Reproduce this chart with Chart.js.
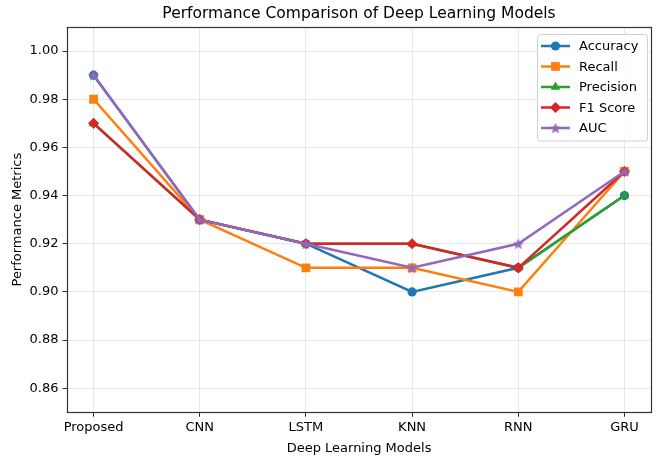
<!DOCTYPE html>
<html>
<head>
<meta charset="utf-8">
<script src="https://cdn.jsdelivr.net/npm/chart.js@4/dist/chart.umd.min.js"></script>
<style>
  html, body { margin: 0; padding: 0; background: #fff; }
  #wrap { width: 661px; height: 462px; position: relative; }
</style>
</head>
<body>
<div id="wrap"><canvas id="chart"></canvas></div>
<script>
// Data
const models = ['Proposed', 'CNN', 'LSTM', 'KNN', 'RNN', 'GRU'];
const accuracy = [0.99, 0.93, 0.92, 0.90, 0.91, 0.94];
const recall = [0.98, 0.93, 0.91, 0.91, 0.90, 0.95];
const precision = [0.97, 0.93, 0.92, 0.92, 0.91, 0.94];
const f1Score = [0.97, 0.93, 0.92, 0.92, 0.91, 0.95];
const auc = [0.99, 0.93, 0.92, 0.91, 0.92, 0.95];
const yTicks = [0.86, 0.88, 0.90, 0.92, 0.94, 0.96, 0.98, 1.00];
const chartTitle = 'Performance Comparison of Deep Learning Models';

const FONT = "'DejaVu Sans', sans-serif";

// filled 5-point star like matplotlib '*'
function makeStar(color, r) {
    const c = document.createElement('canvas');
    const s = Math.ceil(r * 2 + 2);
    c.width = s; c.height = s;
    const g = c.getContext('2d');
    g.beginPath();
    for (let i = 0; i < 10; i++) {
        const rad = i % 2 === 0 ? r : r * 0.42;
        const a = -Math.PI / 2 + i * Math.PI / 5;
        const x = s / 2 + rad * Math.cos(a);
        const y = s / 2 + 0.6 + rad * Math.sin(a);
        if (i === 0) g.moveTo(x, y); else g.lineTo(x, y);
    }
    g.closePath();
    g.fillStyle = color;
    g.fill();
    return c;
}

function toPoints(vals) {
    return vals.map((v, i) => ({ x: i, y: v }));
}

const series = [
    { label: 'Accuracy', data: accuracy, color: '#1f77b4', style: 'circle', r: 4.6 },
    { label: 'Recall', data: recall, color: '#ff7f0e', style: 'rect', r: 6.2 },
    { label: 'Precision', data: precision, color: '#2ca02c', style: 'triangle', r: 5.6 },
    { label: 'F1 Score', data: f1Score, color: '#d62728', style: 'rectRot', r: 5.6 },
    { label: 'AUC', data: auc, color: '#9467bd', style: makeStar('#9467bd', 6), r: 6 }
];

const datasets = series.map((s, i) => ({
    label: s.label,
    data: toPoints(s.data),
    order: series.length - i,
    borderColor: s.color,
    backgroundColor: s.color,
    borderWidth: 2.5,
    pointStyle: s.style,
    pointRadius: s.r,
    pointBorderWidth: 0,
    pointHoverRadius: s.r,
    tension: 0
}));

// matplotlib-like legend: line segment with marker
const legendBox = {
    id: 'legendBox',
    afterDraw(chart) {
        const ctx = chart.ctx;
        const area = chart.chartArea;
        const w = 110, rowH = 20.5;
        const h = 4 + rowH * series.length;
        const x0 = area.right - w - 4;
        const y0 = area.top + 7;
        ctx.save();
        ctx.fillStyle = 'rgba(255,255,255,0.8)';
        ctx.strokeStyle = '#d0d0d0';
        ctx.lineWidth = 1;
        ctx.beginPath();
        ctx.roundRect(x0 + 0.5, y0 + 0.5, w, h, 3);
        ctx.fill();
        ctx.stroke();
        ctx.font = '13px ' + FONT;
        ctx.textBaseline = 'middle';
        series.forEach((s, i) => {
            const cy = y0 + 12 + i * rowH;
            ctx.strokeStyle = s.color;
            ctx.lineWidth = 2.5;
            ctx.beginPath();
            ctx.moveTo(x0 + 4, cy);
            ctx.lineTo(x0 + 33, cy);
            ctx.stroke();
            ctx.fillStyle = s.color;
            Chart.helpers.drawPoint(ctx, { pointStyle: s.style, radius: s.r, borderWidth: 0 }, x0 + 18.5, cy);
            ctx.fillStyle = '#000';
            ctx.fillText(s.label, x0 + 42, cy + 1);
        });
        ctx.restore();
    }
};

// dark frame around plot area + title centred over the axes
const frame = {
    id: 'frame',
    afterDatasetsDraw(chart) {
        const a = chart.chartArea;
        const ctx = chart.ctx;
        ctx.save();
        ctx.strokeStyle = '#333';
        ctx.lineWidth = 1.2;
        ctx.strokeRect(Math.round(a.left) + 0.5, Math.round(a.top) + 0.5,
            Math.round(a.right - a.left), Math.round(a.bottom - a.top));
        ctx.fillStyle = '#000';
        ctx.font = '15.5px ' + FONT;
        ctx.textAlign = 'center';
        ctx.textBaseline = 'middle';
        ctx.fillText(chartTitle, (a.left + a.right) / 2, 13.5);
        ctx.restore();
    }
};

new Chart(document.getElementById('chart'), {
    type: 'line',
    data: { datasets },
    options: {
        responsive: true,
        maintainAspectRatio: false,
        animation: false,
        layout: { padding: { left: 10, right: 10, top: 27, bottom: 6 } },
        plugins: {
            legend: { display: false },
            tooltip: { enabled: false },
            title: { display: false }
        },
        scales: {
            x: {
                type: 'linear',
                min: -0.25,
                max: 5.25,
                afterBuildTicks: axis => { axis.ticks = models.map((m, i) => ({ value: i })); },
                ticks: {
                    color: '#000',
                    font: { family: FONT, size: 13 },
                    padding: 3,
                    autoSkip: false,
                    maxRotation: 0,
                    callback: v => models[v]
                },
                grid: { color: 'rgba(0,0,0,0.09)', tickColor: '#333', tickLength: 4.5 },
                border: { display: false },
                title: {
                    display: true,
                    text: 'Deep Learning Models',
                    color: '#000',
                    font: { family: FONT, size: 13 },
                    padding: { top: 2, bottom: 0 }
                }
            },
            y: {
                min: 0.85,
                max: 1.01,
                afterBuildTicks: axis => { axis.ticks = yTicks.map(v => ({ value: v })); },
                ticks: {
                    color: '#000',
                    font: { family: FONT, size: 13 },
                    padding: 4,
                    callback: v => v.toFixed(2)
                },
                grid: { color: 'rgba(0,0,0,0.09)', tickColor: '#333', tickLength: 4.5 },
                border: { display: false },
                title: {
                    display: true,
                    text: 'Performance Metrics',
                    color: '#000',
                    font: { family: FONT, size: 13 },
                    padding: { top: 0, bottom: 0 }
                }
            }
        }
    },
    plugins: [frame, legendBox]
});
</script>
</body>
</html>
